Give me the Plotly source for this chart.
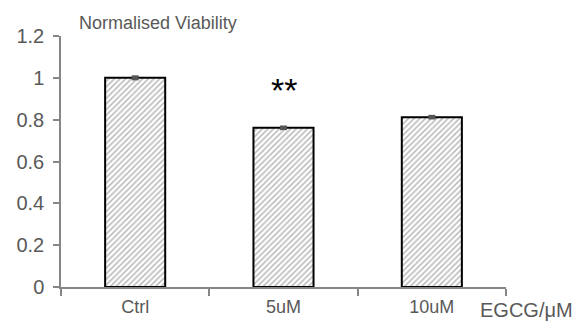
import plotly.graph_objects as go

categories = ["Ctrl", "5uM", "10uM"]
viability = [1.0, 0.761, 0.812]
errors = [0.012, 0.011, 0.011]
y_ticks = [0, 0.2, 0.4, 0.6, 0.8, 1.0, 1.2]
y_tick_labels = ["0", "0.2", "0.4", "0.6", "0.8", "1", "1.2"]
significance_category = "5uM"
significance_label = "**"
significance_y = 0.94

FONT = "Liberation Sans, Arial, sans-serif"
GRAY_TXT = "#595959"
AXIS = "#868686"

fig = go.Figure()
fig.add_trace(go.Bar(
    x=categories,
    y=viability,
    width=0.405,
    marker=dict(
        color="white",
        line=dict(color="black", width=2),
        pattern=dict(shape="/", fgcolor="#7a7a7a", bgcolor="white", size=4, solidity=0.4),
    ),
    error_y=dict(type="data", array=errors, color="#555555", thickness=7, width=0),
))

fig.add_annotation(
    x=significance_category, y=significance_y, xref="x", yref="y",
    text=significance_label, showarrow=False,
    font=dict(family=FONT, size=34, color="black"),
    xanchor="center", yanchor="middle",
)
fig.add_annotation(
    x=0.036, y=1.052, xref="paper", yref="paper",
    text="Normalised Viability", showarrow=False,
    font=dict(family=FONT, size=18, color=GRAY_TXT),
    xanchor="left", yanchor="middle",
)
fig.add_annotation(
    x=0.940, y=-0.093, xref="paper", yref="paper",
    text="EGCG/μM", showarrow=False, borderpad=0,
    font=dict(family=FONT, size=20, color=GRAY_TXT),
    xanchor="left", yanchor="middle",
)

# page body has an 8px default margin, so the figure is offset by 8px
fig.update_layout(
    width=572, height=315,
    margin=dict(l=53, r=74, t=28, b=36),
    paper_bgcolor="white", plot_bgcolor="white",
    showlegend=False,
    font=dict(family=FONT, color=GRAY_TXT),
)
fig.update_xaxes(
    type="category", range=[-0.5, 2.5], automargin=False,
    showline=True, linecolor=AXIS, linewidth=1.5,
    ticks="outside", tickson="boundaries", ticklen=7, tickcolor=AXIS, tickwidth=1.5,
    tickfont=dict(family=FONT, size=18, color=GRAY_TXT),
    ticklabelstandoff=3,
    showgrid=False, zeroline=False,
)
fig.update_yaxes(
    range=[0, 1.2], tickvals=y_ticks, ticktext=y_tick_labels, automargin=False,
    showline=True, linecolor=AXIS, linewidth=1.5,
    ticks="outside", ticklen=6, tickcolor=AXIS, tickwidth=1.5,
    tickfont=dict(family=FONT, size=20, color=GRAY_TXT),
    ticklabelstandoff=5,
    showgrid=False, zeroline=False,
)

fig.write_html("out.html")
